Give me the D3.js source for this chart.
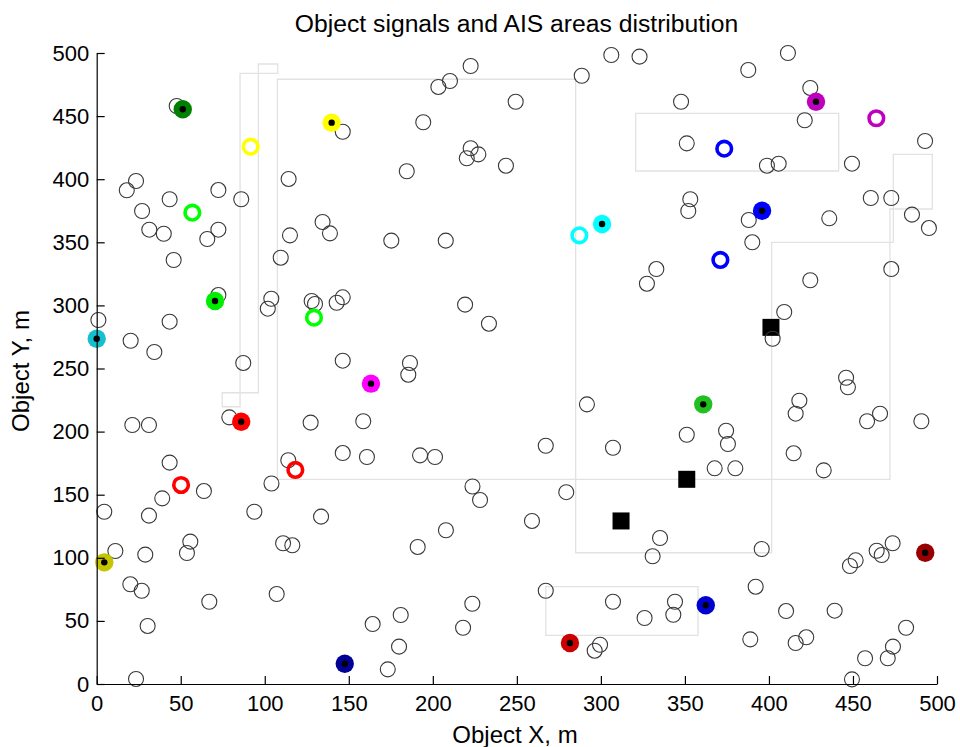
<!DOCTYPE html>
<html>
<head>
<meta charset="utf-8">
<script src="https://cdn.jsdelivr.net/npm/d3@7"></script>
<style>
  body { margin: 0; background: #fff; }
  text { font-family: "Liberation Sans", Arial, Helvetica, sans-serif; }
</style>
</head>
<body>
<svg id="chart" width="960" height="747"></svg>
<script>
// Axis ticks
const xTicks = [0, 50, 100, 150, 200, 250, 300, 350, 400, 450, 500];
const yTicks = [0, 50, 100, 150, 200, 250, 300, 350, 400, 450, 500];

// Object positions (hollow circles), metres
const objX = [47.6,17.9,23.4,27,31.3,39.9,43.4,65.8,72.4,72.4,86,114.2,115,134.4,138.8,146.4,194.3,184.5,203.3,210.2,
  222.5,222.5,220.2,227.1,243.5,249.3,288.6,306.2,323,175.3,207.7,411.3,387.7,424.6,347.7,421.3,351.1,398.8,405.8,449.4,
  492.9,353.2,352,388,435.9,460.6,472.8,485.1,495.2,390.1,45.8,109.5,1,20.2,34.3,43.4,72.4,87.2,103.9,101.8,
  127.9,129.9,21.2,31.1,78.9,127.3,43.4,114,63.8,104,146.4,142.8,219.2,233.4,146.4,186.4,185.4,158.6,146.4,160.8,
  192.4,201.3,267.2,291.7,307.2,223.6,279.4,333,327.4,424.6,472.8,409.1,402.2,445.9,447,418.1,415.9,458.4,466.1,490.7,
  351.1,374.5,375.6,414.7,367.7,380,432.6,39,4.5,31.1,93.8,133.5,11.1,28.9,55.7,53.7,110.9,116.4,20,26.8,
  67,107.1,30.3,23.4,228.1,259,207.8,191,267.2,307.2,326,223.5,218,180.9,164.2,179.9,173.2,299.5,296.3,335.2,
  330.8,395.7,392.1,344.1,343.1,410.2,439.1,388.9,415.9,422.2,448.2,451.6,464.1,467.1,473.6,481.6,473.8,470.7,457.2,449.4];
const objY = [458,391.2,398.6,374.8,360,356.8,384.1,352.6,391.4,360,384.1,400.2,355.5,366.1,357.1,437.6,445.1,406.3,473.1,477.8,
  489.7,424.5,416.6,419.7,410.7,461.4,482,498.4,497.1,351.3,351.3,500,486.5,472.3,461.4,446.7,428.4,410.7,412.3,412.3,
  430.3,384.1,374.8,367.7,369,385.1,385.1,371.9,361.3,350,336,337.8,288.4,272,263.1,287.1,308.2,254.4,305.3,297.4,
  303.5,301.1,205.2,205.2,211.3,207.1,175.4,177.3,152.9,158.9,306.4,302.1,300.6,285.5,256.2,254.4,245.1,208.2,183,179.9,
  181.2,179.9,188.8,221.6,187.2,156.5,152,328.8,317.2,319.9,328.8,294.8,273.6,242.7,235.1,224.5,214.2,208.2,214.2,208.2,
  197.5,200.7,190.2,182.8,170.9,170.9,169.3,147.1,136.5,133.4,136.5,132.6,105.4,102.5,112.8,103.8,111.5,109.9,79,73.9,
  65.2,71.3,46,4,145.8,129.2,121.8,108.6,73.9,65.2,52.3,63.6,44.6,54.7,47.5,29.6,11.6,31.1,26.4,115.7,
  101.2,107,77.1,65.2,54.9,57.8,58.1,35.4,32.5,37,93.5,98,105.6,102.2,111.5,44.6,29.6,20.4,20.4,3.7];

// Received signals (filled markers with a centre dot)
const sigX = [51.2,139.8,428,395.9,300.7,0,70.4,86,163.2,360.9,4.5,147.6,281.6,362.4,493];
const sigY = [455.4,444.8,461.4,375,364.5,273.6,303.5,207.8,238,221.6,96.4,16.1,32.5,62.4,104];
const sigColor = ["#008000","#ffff00","#bf00bf","#0000ff","#00ffff","#17becf","#00ee00","#ff0000","#ff00ff",
  "#20c020","#c4c400","#000096","#cc0000","#0000d2","#990000"];

// Estimated signal positions (rings)
const ringX = [91.6,56.9,129.3,118.2,50.2,287.2,373.4,371.1,463.9];
const ringY = [425.8,373.5,290.3,169.6,157.7,355.5,424.2,336,448.3];
const ringColor = ["#ffff00","#00ff00","#00ff00","#ff0000","#ff0000","#00ffff","#0000ff","#0000ff","#c000c0"];

// Base stations (squares)
const stationX = [401.2,351.1,312];
const stationY = [282.6,162.2,129.2];

// AIS area outlines, metres
const aisNarrow = [[85.3,483.9],[107.7,483.9],[107.7,491.3],[96.2,491.3],[96.2,230.8],[74.7,230.8],[74.7,219.7],[85.3,219.7]];
const aisMain = [[107.5,479.2],[285,479.2],[285,104],[401.6,104],[401.6,350],[474,350],[474,419.7],[497.2,419.7],
  [497.2,376.4],[472,376.4],[472,162.2],[107.5,162.2]];
const aisTop = [[320.7,452.2],[441.5,452.2],[441.5,406.5],[320.7,406.5]];
const aisBottom = [[267.2,77.1],[357.8,77.1],[357.8,38.6],[267.2,38.6]];
const aisAreas = [aisNarrow, aisMain, aisTop, aisBottom];

const svg = d3.select("#chart");
const x = d3.scaleLinear().domain([0, 500]).range([96.7, 937]);
const y = d3.scaleLinear().domain([0, 500]).range([684, 53]);

// AIS areas
const line = d3.line().x(d => x(d[0])).y(d => y(d[1])).curve(d3.curveLinearClosed);
svg.append("g").selectAll("path").data(aisAreas).join("path")
  .attr("d", line).attr("fill", "none").attr("stroke", "#e2e2e2").attr("stroke-width", 1.3);

// Stations
svg.append("g").selectAll("rect").data(stationX).join("rect")
  .attr("x", (d, i) => x(d) - 8.5).attr("y", (d, i) => y(stationY[i]) - 8.5)
  .attr("width", 17).attr("height", 17).attr("fill", "#000");

// Objects
svg.append("g").selectAll("circle").data(objX).join("circle")
  .attr("cx", d => x(d)).attr("cy", (d, i) => y(objY[i])).attr("r", 7.5)
  .attr("fill", "none").attr("stroke", "#383838").attr("stroke-width", 1.1);

// Rings
svg.append("g").selectAll("circle").data(ringX).join("circle")
  .attr("cx", d => x(d)).attr("cy", (d, i) => y(ringY[i])).attr("r", 7.3)
  .attr("fill", "none").attr("stroke", (d, i) => ringColor[i]).attr("stroke-width", 3.6);

// Signals
const sg = svg.append("g");
sg.selectAll("circle.sig").data(sigX).join("circle").attr("class", "sig")
  .attr("cx", d => x(d)).attr("cy", (d, i) => y(sigY[i])).attr("r", 9.2)
  .attr("fill", (d, i) => sigColor[i]);
sg.selectAll("circle.dot").data(sigX).join("circle").attr("class", "dot")
  .attr("cx", d => x(d)).attr("cy", (d, i) => y(sigY[i])).attr("r", 3.2)
  .attr("fill", "#000");

// Axes
const xAxis = svg.append("g").attr("transform", "translate(0,684)")
  .call(d3.axisBottom(x).tickValues(xTicks).tickSizeInner(-8).tickSizeOuter(0).tickPadding(11));
const yAxis = svg.append("g").attr("transform", "translate(96.7,0)")
  .call(d3.axisLeft(y).tickValues(yTicks).tickSizeInner(-8).tickSizeOuter(0).tickPadding(7.5));
[xAxis, yAxis].forEach(a => {
  a.attr("font-family", null).attr("font-size", 22);
  a.select(".domain").attr("stroke", "#000").attr("stroke-width", 1.2);
  a.selectAll(".tick line").attr("stroke", "#000").attr("stroke-width", 1.2);
  a.selectAll(".tick text").attr("fill", "#000");
});

// Titles
svg.append("text").attr("x", 516.5).attr("y", 31.5).attr("text-anchor", "middle")
  .attr("font-size", 24.7).text("Object signals and AIS areas distribution");
svg.append("text").attr("x", 515).attr("y", 743).attr("text-anchor", "middle")
  .attr("font-size", 24).text("Object X, m");
svg.append("text").attr("transform", "translate(29,371) rotate(-90)").attr("text-anchor", "middle")
  .attr("font-size", 24).text("Object Y, m");
</script>
</body>
</html>
